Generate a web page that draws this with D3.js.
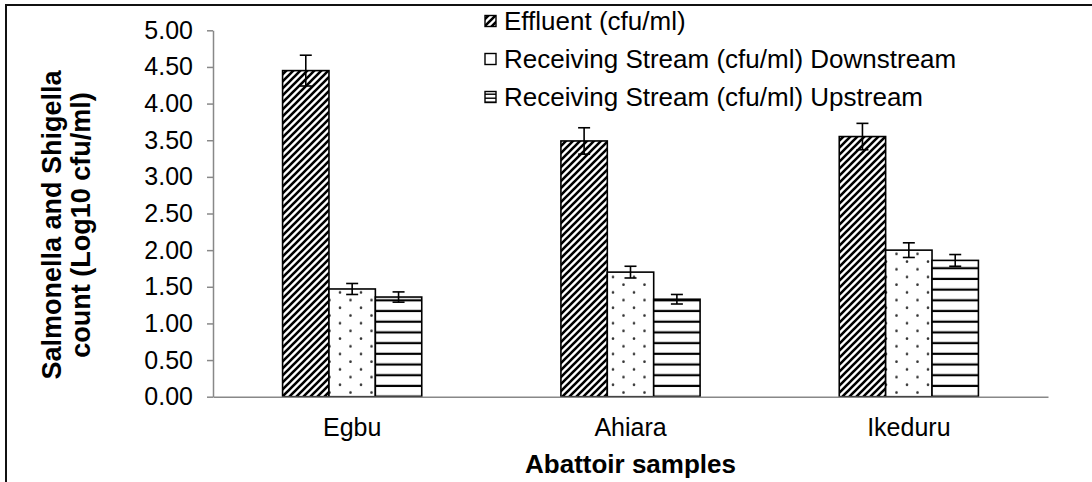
<!DOCTYPE html>
<html><head><meta charset="utf-8">
<script src="https://cdn.jsdelivr.net/npm/d3@7"></script>
<style>
html,body{margin:0;padding:0;background:#fff;}
svg{display:block;font-family:"Liberation Sans",Arial,sans-serif;}
</style></head>
<body><svg id="c" width="1092" height="482"></svg>
<script>
const categories = ["Egbu", "Ahiara", "Ikeduru"];
const seriesNames = ["Effluent (cfu/ml)", "Receiving Stream (cfu/ml) Downstream", "Receiving Stream (cfu/ml) Upstream"];
const effluent = [4.45, 3.49, 3.55];
const effluentErr = [0.21, 0.18, 0.18];
const downstream = [1.47, 1.70, 2.00];
const downstreamErr = [0.075, 0.08, 0.10];
const upstream = [1.36, 1.33, 1.86];
const upstreamErr = [0.07, 0.065, 0.08];
const yTicks = [0, 0.5, 1, 1.5, 2, 2.5, 3, 3.5, 4, 4.5, 5];
const yTitle = ["Salmonella and Shigella", "count (Log10 cfu/ml)"];
const xTitle = "Abattoir samples";

const values = [effluent, downstream, upstream];
const errs = [effluentErr, downstreamErr, upstreamErr];
const patIds = ["pDiag", "pDots", "pHoriz"];

const svg = d3.select("#c");
const L = 213, R = 1048, T = 30.3, B = 396.7;

// outer border
svg.append("rect").attr("x", 6).attr("y", 5).attr("width", 1200).attr("height", 600)
  .attr("fill", "none").attr("stroke", "#111").attr("stroke-width", 2);

const defs = svg.append("defs");
// diagonal stripes
const pd = defs.append("pattern").attr("id", "pDiag").attr("patternUnits", "userSpaceOnUse")
  .attr("width", 7).attr("height", 7);
pd.append("rect").attr("width", 7).attr("height", 7).attr("fill", "#fff");
pd.append("path").attr("d", "M-1,1 L1,-1 M0,7 L7,0 M6,8 L8,6").attr("stroke", "#000").attr("stroke-width", 2.6);
// dots
const pdo = defs.append("pattern").attr("id", "pDots").attr("patternUnits", "userSpaceOnUse")
  .attr("width", 21).attr("height", 15.4).attr("x", 0).attr("y", B);
pdo.append("rect").attr("width", 21).attr("height", 15.4).attr("fill", "#fff");
pdo.append("circle").attr("cx", 4).attr("cy", 3.5).attr("r", 1.3).attr("fill", "#333");
pdo.append("circle").attr("cx", 14.5).attr("cy", 11.2).attr("r", 1.3).attr("fill", "#333");
// horizontal lines
const ph = defs.append("pattern").attr("id", "pHoriz").attr("patternUnits", "userSpaceOnUse")
  .attr("width", 10).attr("height", 10.7).attr("x", 0).attr("y", B);
ph.append("rect").attr("width", 10).attr("height", 10.7).attr("fill", "#fff");
ph.append("rect").attr("y", 9.5).attr("width", 10).attr("height", 2.2).attr("fill", "#000");
ph.append("rect").attr("y", -1.2).attr("width", 10).attr("height", 2.2).attr("fill", "#000");
// legend pattern (smaller)
const lh = defs.append("pattern").attr("id", "lHoriz").attr("patternUnits", "userSpaceOnUse")
  .attr("width", 10).attr("height", 4).attr("x", 0).attr("y", 0);
lh.append("rect").attr("width", 10).attr("height", 4).attr("fill", "#fff");
lh.append("rect").attr("y", 1.5).attr("width", 10).attr("height", 1.4).attr("fill", "#000");

const x = d3.scaleBand().domain(categories).range([L, R]).padding(0);
const bw = x.bandwidth() / 6;
const xs = d3.scaleBand().domain(d3.range(3)).range([x.bandwidth() / 2 - 1.5 * bw, x.bandwidth() / 2 + 1.5 * bw]);
const y = d3.scaleLinear().domain([0, 5]).range([B, T]);

// y axis
const yAxis = svg.append("g").attr("transform", `translate(${L},0)`)
  .call(d3.axisLeft(y).tickValues(yTicks).tickFormat(d3.format(".2f")).tickSize(6).tickSizeOuter(0).tickPadding(14));
yAxis.select(".domain").attr("stroke", "#888").attr("stroke-width", 1.5);
yAxis.selectAll(".tick line").attr("stroke", "#888").attr("stroke-width", 1.5);
yAxis.selectAll(".tick text").attr("fill", "#000").style("font-size", "25px").style("font-family", "Liberation Sans, Arial, sans-serif");

// bars
categories.forEach((c, i) => {
  values.forEach((vals, s) => {
    const x0 = x(c) + xs(s);
    svg.append("rect").attr("x", x0).attr("y", y(vals[i])).attr("width", xs.bandwidth())
      .attr("height", y(0) - y(vals[i])).attr("fill", `url(#${patIds[s]})`)
      .attr("stroke", "#000").attr("stroke-width", 1.6);
  });
});

// x axis
const xAxis = svg.append("g").attr("transform", `translate(0,${B})`)
  .call(d3.axisBottom(x).tickSize(0).tickPadding(22));
xAxis.select(".domain").attr("stroke", "#888").attr("stroke-width", 1.5);
xAxis.selectAll(".tick text").attr("fill", "#000").style("font-size", "25px").style("font-family", "Liberation Sans, Arial, sans-serif");

// error bars
categories.forEach((c, i) => {
  values.forEach((vals, s) => {
    const cx = x(c) + xs(s) + xs.bandwidth() / 2;
    const hi = y(vals[i] + errs[s][i]), lo = y(vals[i] - errs[s][i]);
    const g = svg.append("g").attr("stroke", "#000").attr("stroke-width", 1.6);
    g.append("line").attr("x1", cx).attr("x2", cx).attr("y1", hi).attr("y2", lo);
    g.append("line").attr("x1", cx - 6).attr("x2", cx + 6).attr("y1", hi).attr("y2", hi);
    g.append("line").attr("x1", cx - 6).attr("x2", cx + 6).attr("y1", lo).attr("y2", lo);
  });
});

// legend
const legY = [21, 59, 97];
const legPats = ["pDiag", "pDots", "lHoriz"];
seriesNames.forEach((n, i) => {
  svg.append("rect").attr("x", 485).attr("y", legY[i] - 5.5).attr("width", 11).attr("height", 11)
    .attr("fill", i === 1 ? "#fff" : `url(#${legPats[i]})`).attr("stroke", "#000").attr("stroke-width", 1.4);
  svg.append("text").attr("x", 504).attr("y", legY[i]).attr("dy", "0.35em")
    .style("font-size", "26px").text(n);
});

// axis titles
yTitle.forEach((t, i) => {
  svg.append("text").attr("transform", `translate(${61 + i * 29},225) rotate(-90)`)
    .attr("text-anchor", "middle").style("font-size", "27px").style("font-weight", "bold").text(t);
});
svg.append("text").attr("x", (L + R) / 2).attr("y", 473).attr("text-anchor", "middle")
  .style("font-size", "26px").style("font-weight", "bold").text(xTitle);
</script></body></html>
